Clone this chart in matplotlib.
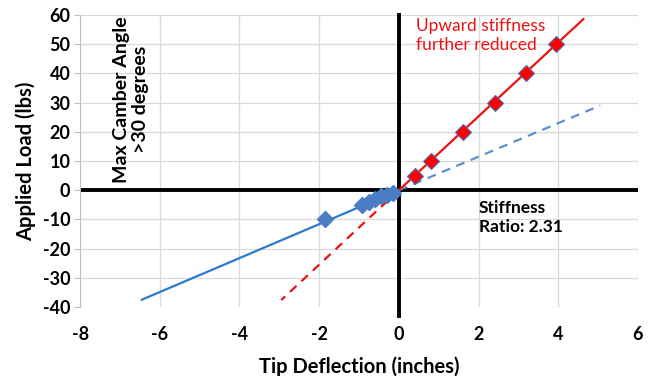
import numpy as np
import matplotlib.pyplot as plt

plt.rcParams['font.family'] = ['Lato', 'DejaVu Sans']
plt.rcParams['axes.unicode_minus'] = False

# measured points
up_x = [0.4, 0.8, 1.6, 2.4, 3.2, 3.95]
up_y = [5, 10, 20, 30, 40, 50]
down_x = [-1.85, -0.93, -0.75, -0.6, -0.45, -0.3, -0.15]
down_y = [-10, -5, -4, -3, -2, -1.5, -0.8]

# linear fits (drawn as lines)
up_fit_x = [0, 4.63]
up_fit_y = [0, 58.6]
up_ext_x = [0, -2.95]
up_ext_y = [0, -37.6]
down_fit_x = [-6.45, 0]
down_fit_y = [-37.5, 0]
down_ext_x = [0, 5.05]
down_ext_y = [0, 29]

xticks = [-8, -6, -4, -2, 0, 2, 4, 6]
yticks = [-40, -30, -20, -10, 0, 10, 20, 30, 40, 50, 60]

fig = plt.figure(figsize=(6.51, 3.76), dpi=100)
ax = fig.add_axes([0.123, 0.1835, 0.857, 0.7765])

ax.set_xlim(-8, 6)
ax.set_ylim(-40, 60)
ax.set_xticks(xticks)
ax.set_yticks(yticks)
ax.grid(True, color='#d9d9d9', lw=0.9)
ax.set_axisbelow(True)
for s in ['top', 'right', 'bottom']:
    ax.spines[s].set_visible(False)
ax.spines['left'].set_color('#bfbfbf')
ax.tick_params(axis='y', color='#bfbfbf', length=4, pad=3)
ax.tick_params(axis='x', length=0, pad=14)
for lab in ax.get_xticklabels() + ax.get_yticklabels():
    lab.set_fontweight('bold')
    lab.set_fontsize(13)

# main axes through origin
ax.axhline(0, color='black', lw=2.8, zorder=2)
ax.plot([0, 0], [-43, 60], color='black', lw=2.8, zorder=2, clip_on=False)

ax.plot(down_fit_x, down_fit_y, color='#2a7bcb', lw=1.6, zorder=3)
ax.plot(down_ext_x, down_ext_y, color='#5b8fd0', lw=1.6, ls=(0, (4, 3)), zorder=3)
ax.plot(up_fit_x, up_fit_y, color='#ee1111', lw=1.6, zorder=3)
ax.plot(up_ext_x, up_ext_y, color='#ee1111', lw=1.6, ls=(0, (4, 3)), zorder=3)

ax.plot(down_x, down_y, 'D', color='#4a7ec4', ms=8.5, mec='#4a7ec4', zorder=4)
ax.plot(up_x, up_y, 'D', color='#ff0000', ms=8.5, mec='#4a6fb5', mew=0.8, zorder=4)

ax.text(-6.72, 31, 'Max Camber Angle\n>30 degrees', rotation=90, ha='center', va='center',
        fontsize=14, fontweight='bold', linespacing=1.15)
ax.text(0.42, 59, 'Upward stiffness\nfurther reduced', color='#ee1111', ha='left', va='top',
        fontsize=12.5, linespacing=1.2)
ax.text(2.0, -3.5, 'Stiffness\nRatio: 2.31', ha='left', va='top',
        fontsize=12.5, fontweight='bold', linespacing=1.2)

ax.set_xlabel('Tip Deflection (inches)', fontsize=14.5, fontweight='bold', labelpad=9)
ax.set_ylabel('Applied Load (lbs)', fontsize=14.5, fontweight='bold', labelpad=5)

fig.savefig('out.png', dpi=100)
